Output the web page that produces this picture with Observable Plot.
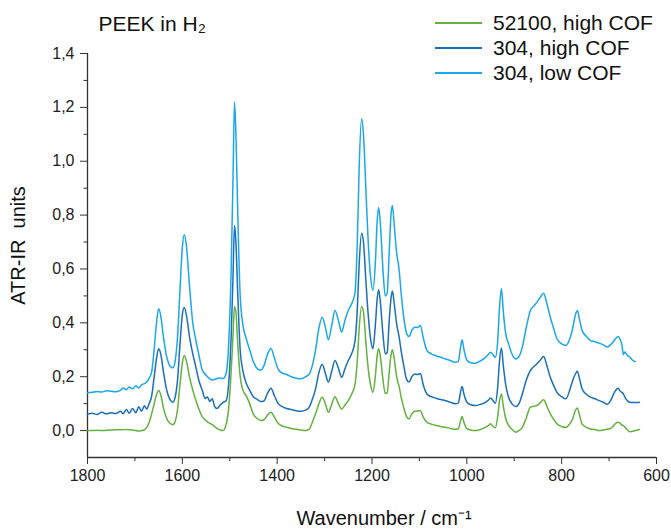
<!DOCTYPE html>
<html><head><meta charset="utf-8">
<script src="https://cdn.jsdelivr.net/npm/d3@7"></script>
<script src="https://cdn.jsdelivr.net/npm/@observablehq/plot@0.6"></script>
<style>
body{margin:0;background:#fff;font-family:Arial,"Liberation Sans",sans-serif;}
#wrap{position:relative;width:671px;height:530px;}
#legend{position:absolute;left:435px;top:10px;font-size:21px;color:#111;line-height:25px;}
#legend .row{display:flex;align-items:center;height:25px;}
#legend .sw{width:47px;height:2px;margin-right:11px;}
</style></head><body><div id="wrap"><div id="legend"></div></div>
<script>
const seriesNames = ["52100, high COF", "304, high COF", "304, low COF"];
const seriesColors = ["#63b13f", "#1b6fba", "#1aa7ee"];
const xTicks = [1800, 1600, 1400, 1200, 1000, 800, 600];
const xMinor = [1700, 1500, 1300, 1100, 900, 700];
const yTicks = [0, 0.2, 0.4, 0.6, 0.8, 1.0, 1.2, 1.4];
const yTickLabels = ["0,0", "0,2", "0,4", "0,6", "0,8", "1,0", "1,2", "1,4"];
const yMinor = [0.1, 0.3, 0.5, 0.7, 0.9, 1.1, 1.3];

const wavenumber = [1800,1790,1780,1770,1760,1750,1740,1730,1725,1718,1712,1705,1698,1692,1686,1680,1675,1670,1665,1660,1655,1650,1645,1640,1633,1626,1620,1615,1610,1605,1600,1596,1591,1585,1578,1572,1565,1558,1552,1547,1542,1537,1532,1527,1520,1514,1508,1502,1497,1493,1490,1487,1483,1478,1472,1465,1458,1450,1442,1435,1428,1420,1413,1406,1398,1390,1380,1370,1360,1350,1340,1333,1326,1319,1312,1305,1298,1292,1285,1278,1271,1264,1257,1250,1243,1236,1231,1227,1222,1218,1213,1208,1203,1198,1193,1189,1186,1182,1177,1172,1168,1164,1160,1157,1153,1148,1143,1138,1133,1127,1122,1116,1110,1104,1098,1092,1084,1075,1065,1055,1045,1035,1025,1018,1014,1010,1006,1000,992,982,972,962,955,950,945,940,935,931,927,923,918,912,905,897,890,883,875,866,859,852,845,838,831,824,817,810,800,791,783,777,771,767,762,757,748,739,730,722,712,704,697,692,686,681,676,673,670,667,662,656,651,645,640,636];

const low304 = [0.140,0.142,0.145,0.143,0.148,0.146,0.144,0.150,0.158,0.152,0.162,0.155,0.166,0.158,0.170,0.174,0.180,0.195,0.215,0.290,0.390,0.452,0.420,0.350,0.275,0.240,0.233,0.260,0.350,0.520,0.680,0.727,0.680,0.540,0.400,0.340,0.280,0.225,0.210,0.200,0.192,0.188,0.190,0.193,0.195,0.193,0.210,0.330,0.600,0.950,1.220,1.100,0.800,0.500,0.390,0.340,0.300,0.255,0.230,0.224,0.240,0.285,0.305,0.270,0.228,0.214,0.208,0.200,0.194,0.192,0.200,0.208,0.240,0.300,0.380,0.421,0.380,0.337,0.390,0.446,0.410,0.366,0.410,0.446,0.470,0.510,0.700,0.980,1.158,1.100,0.900,0.700,0.570,0.520,0.620,0.780,0.828,0.760,0.600,0.500,0.510,0.650,0.800,0.836,0.760,0.660,0.600,0.500,0.420,0.360,0.349,0.372,0.384,0.383,0.390,0.345,0.297,0.285,0.278,0.272,0.266,0.260,0.254,0.256,0.300,0.337,0.300,0.262,0.252,0.250,0.258,0.270,0.282,0.291,0.282,0.272,0.330,0.460,0.527,0.440,0.360,0.322,0.285,0.266,0.275,0.310,0.380,0.446,0.462,0.477,0.495,0.510,0.470,0.421,0.380,0.341,0.322,0.316,0.340,0.378,0.430,0.446,0.410,0.372,0.350,0.334,0.330,0.325,0.318,0.310,0.318,0.328,0.342,0.349,0.335,0.320,0.282,0.292,0.280,0.272,0.262,0.256,null,null];

const high304 = [0.060,0.064,0.060,0.068,0.062,0.066,0.063,0.072,0.062,0.078,0.064,0.082,0.066,0.088,0.072,0.092,0.080,0.100,0.125,0.190,0.260,0.304,0.280,0.220,0.150,0.115,0.105,0.125,0.190,0.320,0.430,0.457,0.425,0.350,0.285,0.240,0.185,0.150,0.120,0.125,0.108,0.118,0.090,0.082,0.095,0.105,0.110,0.180,0.350,0.580,0.760,0.700,0.500,0.300,0.220,0.175,0.150,0.125,0.116,0.108,0.110,0.140,0.157,0.130,0.100,0.090,0.082,0.078,0.074,0.072,0.076,0.085,0.115,0.155,0.215,0.246,0.210,0.180,0.220,0.260,0.232,0.198,0.230,0.260,0.285,0.330,0.450,0.620,0.733,0.700,0.560,0.430,0.340,0.304,0.390,0.490,0.523,0.470,0.360,0.285,0.290,0.400,0.490,0.518,0.470,0.395,0.350,0.290,0.240,0.190,0.180,0.200,0.210,0.208,0.212,0.170,0.136,0.126,0.120,0.115,0.111,0.105,0.100,0.102,0.135,0.164,0.135,0.106,0.096,0.093,0.097,0.104,0.112,0.121,0.112,0.101,0.160,0.260,0.307,0.240,0.170,0.124,0.100,0.089,0.100,0.136,0.185,0.223,0.237,0.248,0.262,0.275,0.240,0.198,0.168,0.142,0.126,0.118,0.150,0.185,0.210,0.220,0.190,0.155,0.135,0.124,0.118,0.112,0.105,0.098,0.110,0.130,0.150,0.157,0.145,0.142,0.136,0.125,0.112,0.105,0.104,0.104,0.104,0.105];

const high52100 = [0.000,0.000,0.001,0.000,0.001,0.002,0.003,0.003,0.003,0.004,0.003,0.002,0.000,-0.002,0.000,0.003,0.012,0.030,0.060,0.095,0.130,0.149,0.130,0.085,0.045,0.027,0.022,0.035,0.080,0.170,0.250,0.279,0.255,0.200,0.150,0.115,0.080,0.052,0.040,0.032,0.027,0.022,0.015,0.008,0.002,0.000,0.020,0.087,0.220,0.360,0.460,0.440,0.320,0.200,0.150,0.128,0.100,0.060,0.045,0.037,0.040,0.058,0.068,0.050,0.027,0.018,0.012,0.008,0.005,0.002,0.000,0.004,0.030,0.062,0.100,0.124,0.098,0.068,0.098,0.126,0.100,0.080,0.095,0.111,0.135,0.170,0.260,0.380,0.461,0.440,0.330,0.230,0.170,0.142,0.200,0.280,0.304,0.270,0.190,0.138,0.140,0.210,0.280,0.300,0.265,0.200,0.165,0.120,0.085,0.052,0.043,0.062,0.072,0.073,0.074,0.050,0.031,0.024,0.019,0.015,0.012,0.008,0.005,0.006,0.030,0.052,0.030,0.007,0.002,0.000,0.004,0.011,0.018,0.025,0.016,0.010,0.050,0.110,0.136,0.090,0.045,0.019,0.005,-0.006,0.000,0.012,0.045,0.087,0.090,0.093,0.104,0.114,0.090,0.062,0.042,0.025,0.015,0.012,0.025,0.043,0.075,0.084,0.055,0.025,0.012,0.006,0.004,0.000,0.002,0.005,0.008,0.015,0.027,0.031,0.026,0.020,0.019,0.013,0.004,-0.004,-0.003,0.000,0.002,0.004];

const seriesValues = [high52100, high304, low304];

function rows(values) {
  return wavenumber.map((w, i) => ({w, v: values[i]})).filter(d => d.v != null);
}

const font = "Arial, 'Liberation Sans', sans-serif";

const chart = Plot.plot({
  width: 671,
  height: 530,
  marginLeft: 87,
  marginRight: 15,
  marginTop: 53,
  marginBottom: 73,
  x: {domain: [1800, 600]},
  y: {domain: [-0.1, 1.4]},
  style: {fontFamily: font, fontSize: "16px", color: "#222", background: "white", overflow: "visible"},
  marks: [
    Plot.axisY({ticks: yTicks, tickSize: 7, tickPadding: 6, tickFormat: (d) => yTickLabels[yTicks.indexOf(d)], label: null, stroke: "#333", fontSize: 16}),
    Plot.axisY({ticks: yMinor, tickSize: 3.5, tickFormat: () => "", label: null, stroke: "#333"}),
    Plot.axisX({ticks: xTicks, tickSize: 7, tickPadding: 5, tickFormat: d => String(d), label: null, stroke: "#333", fontSize: 16}),
    Plot.axisX({ticks: xMinor, tickSize: 4, tickFormat: () => "", label: null, stroke: "#333"}),
    Plot.ruleX([1800], {stroke: "#333", strokeWidth: 1.3}),
    Plot.ruleY([-0.1], {stroke: "#333", strokeWidth: 1.3}),
    ...[2, 1, 0].map(k => Plot.line(rows(seriesValues[k]), {x: "w", y: "v", stroke: seriesColors[k], strokeWidth: 1.5, curve: "monotone-x"})),
    Plot.text(["Wavenumber / cm⁻¹"], {frameAnchor: "bottom", dx: 12, dy: 61, lineAnchor: "middle", textAnchor: "middle", fontSize: 20, fill: "#111"}),
    Plot.text(["ATR-IR\u00a0 units"], {frameAnchor: "left", dx: -69, dy: -10, rotate: -90, textAnchor: "middle", lineAnchor: "middle", fontSize: 20, fill: "#111"}),
    Plot.text(["PEEK in H₂"], {frameAnchor: "top-left", dx: 11, dy: -29, textAnchor: "start", lineAnchor: "middle", fontSize: 21, fill: "#111"})
  ]
});
const wrap = document.getElementById("wrap");
wrap.insertBefore(chart, wrap.firstChild);

const legend = d3.select("#legend");
seriesNames.forEach((name, k) => {
  const row = legend.append("div").attr("class", "row");
  row.append("div").attr("class", "sw").style("background", seriesColors[k]);
  row.append("span").text(name);
});
</script></body></html>
